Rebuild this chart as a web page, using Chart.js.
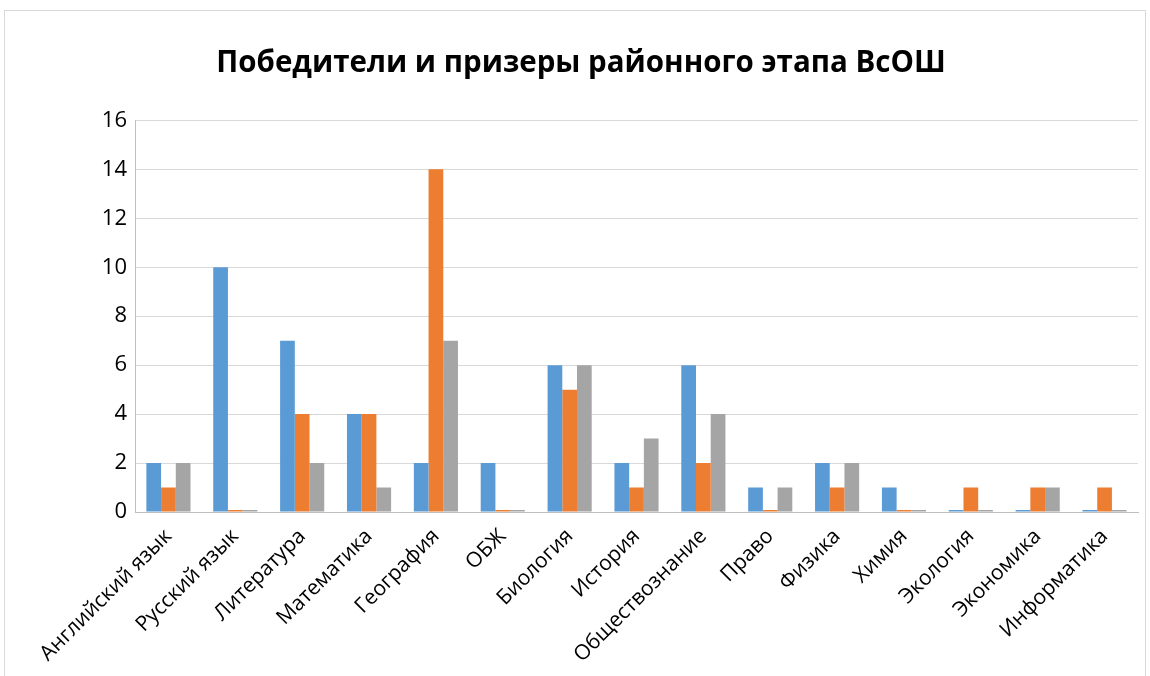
<!DOCTYPE html>
<html>
<head>
<meta charset="utf-8">
<script src="https://cdn.jsdelivr.net/npm/chart.js@4/dist/chart.umd.min.js"></script>
<style>
  body { margin: 0; background: #fff; }
  #frame { position: absolute; left: 4px; top: 10px; width: 1140px; height: 680px; border: 1px solid #d9d9d9; }
  #wrap { position: absolute; left: 0; top: 0; width: 1150px; height: 676px; }
</style>
</head>
<body>
<div id="frame"></div>
<div id="wrap"><canvas id="chart"></canvas></div>
<script>
var subjects = ['Английский язык', 'Русский язык', 'Литература', 'Математика', 'География', 'ОБЖ', 'Биология',
  'История', 'Обществознание', 'Право', 'Физика', 'Химия', 'Экология', 'Экономика', 'Информатика'];
var seriesA = [2, 10, 7, 4, 2, 2, 6, 2, 6, 1, 2, 1, 0, 0, 0];
var seriesB = [1, 0, 4, 4, 14, 0, 5, 1, 2, 0, 1, 0, 1, 1, 1];
var seriesC = [2, 0, 2, 1, 7, 0, 6, 3, 4, 1, 2, 0, 0, 1, 0];

var font = "'Open Sans', sans-serif";

var ctx = document.getElementById('chart');
var chart = new Chart(ctx, {
  type: 'bar',
  data: {
    labels: subjects,
    datasets: [
      { label: 'Ряд 1', data: seriesA, backgroundColor: '#5B9BD5' },
      { label: 'Ряд 2', data: seriesB, backgroundColor: '#ED7D31' },
      { label: 'Ряд 3', data: seriesC, backgroundColor: '#A5A5A5' }
    ]
  },
  options: {
    responsive: true,
    maintainAspectRatio: false,
    animation: false,
    datasets: { bar: { barPercentage: 1, categoryPercentage: 0.66, minBarLength: 2 } },
    layout: { padding: { left: 24, right: 12, top: 0, bottom: 0 } },
    plugins: {
      legend: { display: false },
      tooltip: { enabled: false },
      title: {
        display: true,
        text: 'Победители и призеры районного этапа ВсОШ',
        color: '#000',
        font: { family: font, size: 29.5, weight: 'bold', lineHeight: 1.2 },
        padding: { top: 46, bottom: 39 }
      }
    },
    scales: {
      x: {
        grid: { display: false, drawTicks: false },
        border: { color: '#bfbfbf', width: 1 },
        ticks: {
          color: '#000', maxRotation: 45, minRotation: 45, autoSkip: false, padding: 12,
          font: { family: font, size: 21 }
        },
        afterFit: function(scale) { scale.height = 164; }
      },
      y: {
        min: 0, max: 16,
        grid: { color: '#d9d9d9', drawTicks: false },
        border: { color: '#bfbfbf', width: 1 },
        ticks: { stepSize: 2, color: '#000', padding: 8, font: { family: font, size: 22 } },
        afterFit: function(scale) { scale.width = 111; }
      }
    }
  }
});
</script>
</body>
</html>
